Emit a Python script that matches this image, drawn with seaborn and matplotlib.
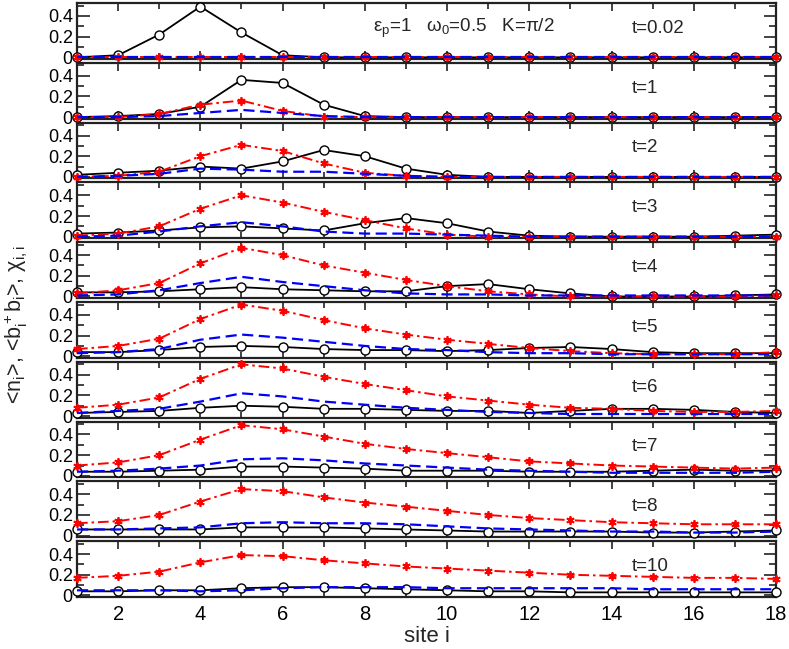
import numpy as np
import pandas as pd
import seaborn as sns
import matplotlib
matplotlib.use("Agg")
import matplotlib.pyplot as plt
from matplotlib.ticker import MultipleLocator

sites = list(range(1, 19))
times = ["0.02", "1", "2", "3", "4", "5", "6", "7", "8", "10"]

# <n_i>  (black, open circles)
n_i = [
    [0, 0.02, 0.22, 0.49, 0.24, 0.02, 0, 0, 0, 0, 0, 0, 0, 0, 0, 0, 0, 0],
    [0, 0.01, 0.03, 0.10, 0.36, 0.33, 0.12, 0.01, 0, 0, 0, 0, 0, 0, 0, 0, 0, 0],
    [0.02, 0.04, 0.06, 0.10, 0.08, 0.15, 0.26, 0.20, 0.08, 0.02, 0, 0, 0, 0, 0, 0, 0, 0],
    [0.03, 0.04, 0.06, 0.09, 0.10, 0.08, 0.06, 0.13, 0.18, 0.13, 0.05, 0.01, 0, 0, 0, 0, 0.01, 0.02],
    [0.04, 0.04, 0.05, 0.07, 0.09, 0.07, 0.06, 0.05, 0.05, 0.10, 0.12, 0.07, 0.03, 0, 0, 0, 0.01, 0.02],
    [0.04, 0.04, 0.06, 0.09, 0.10, 0.09, 0.07, 0.06, 0.06, 0.05, 0.06, 0.08, 0.09, 0.07, 0.04, 0.03, 0.03, 0.03],
    [0.03, 0.04, 0.05, 0.08, 0.10, 0.09, 0.07, 0.07, 0.06, 0.05, 0.05, 0.03, 0.05, 0.07, 0.07, 0.06, 0.04, 0.03],
    [0.04, 0.04, 0.05, 0.06, 0.09, 0.09, 0.08, 0.07, 0.05, 0.05, 0.05, 0.04, 0.04, 0.04, 0.05, 0.06, 0.05, 0.05],
    [0.06, 0.06, 0.06, 0.06, 0.08, 0.08, 0.08, 0.07, 0.06, 0.05, 0.04, 0.04, 0.04, 0.04, 0.03, 0.03, 0.04, 0.05],
    [0.04, 0.04, 0.05, 0.05, 0.07, 0.08, 0.08, 0.07, 0.06, 0.05, 0.04, 0.04, 0.03, 0.03, 0.03, 0.03, 0.03, 0.03],
]

# <b_i^+ b_i>  (red, dash-dot, asterisks)
b_i = [
    [0] * 18,
    [0, 0, 0.03, 0.12, 0.16, 0.06, 0.005, 0, 0, 0, 0, 0, 0, 0, 0, 0, 0, 0],
    [0, 0.01, 0.05, 0.20, 0.31, 0.25, 0.13, 0.04, 0.01, 0, 0, 0, 0, 0, 0, 0, 0, 0],
    [0.01, 0.03, 0.10, 0.27, 0.40, 0.33, 0.24, 0.16, 0.08, 0.02, 0, 0, 0, 0, 0, 0, 0, 0],
    [0.03, 0.06, 0.13, 0.32, 0.47, 0.40, 0.30, 0.23, 0.16, 0.10, 0.05, 0.02, 0, 0, 0, 0, 0, 0.01],
    [0.07, 0.10, 0.17, 0.36, 0.50, 0.44, 0.35, 0.27, 0.21, 0.16, 0.12, 0.08, 0.05, 0.03, 0.02, 0.02, 0.02, 0.04],
    [0.08, 0.11, 0.18, 0.36, 0.50, 0.46, 0.38, 0.31, 0.25, 0.19, 0.15, 0.11, 0.08, 0.07, 0.05, 0.04, 0.04, 0.05],
    [0.10, 0.13, 0.20, 0.35, 0.49, 0.45, 0.38, 0.31, 0.26, 0.22, 0.18, 0.14, 0.12, 0.10, 0.09, 0.08, 0.07, 0.08],
    [0.12, 0.14, 0.20, 0.33, 0.45, 0.43, 0.37, 0.32, 0.28, 0.24, 0.20, 0.17, 0.15, 0.13, 0.12, 0.11, 0.11, 0.11],
    [0.17, 0.19, 0.23, 0.32, 0.39, 0.38, 0.34, 0.31, 0.28, 0.26, 0.24, 0.22, 0.20, 0.19, 0.18, 0.17, 0.17, 0.16],
]

# chi_{i,i}  (blue, dashed)
chi_ii = [
    [0] * 18,
    [0, 0, 0.01, 0.04, 0.07, 0.04, 0.01, 0, 0, 0, 0, 0, 0, 0, 0, 0, 0, 0],
    [0, 0.01, 0.03, 0.08, 0.07, 0.05, 0.05, 0.03, 0.01, 0, 0, 0, 0, 0, 0, 0, 0, 0],
    [0, 0.01, 0.05, 0.10, 0.14, 0.10, 0.05, 0.03, 0.03, 0.02, 0.01, 0, 0, 0, 0, 0, 0, 0],
    [0.01, 0.02, 0.06, 0.13, 0.19, 0.14, 0.10, 0.06, 0.03, 0.02, 0.02, 0.01, 0.01, 0.01, 0.01, 0.01, 0.01, 0.01],
    [0.03, 0.04, 0.07, 0.16, 0.21, 0.18, 0.14, 0.10, 0.07, 0.06, 0.04, 0.03, 0.03, 0.02, 0.02, 0.02, 0.02, 0.02],
    [0.03, 0.05, 0.07, 0.14, 0.22, 0.19, 0.14, 0.11, 0.08, 0.06, 0.04, 0.03, 0.02, 0.02, 0.02, 0.02, 0.02, 0.02],
    [0.04, 0.05, 0.07, 0.10, 0.16, 0.17, 0.15, 0.12, 0.10, 0.08, 0.06, 0.05, 0.04, 0.03, 0.03, 0.03, 0.03, 0.04],
    [0.06, 0.06, 0.07, 0.08, 0.12, 0.13, 0.12, 0.12, 0.11, 0.09, 0.07, 0.06, 0.05, 0.04, 0.04, 0.03, 0.03, 0.04],
    [0.05, 0.05, 0.05, 0.04, 0.05, 0.07, 0.08, 0.08, 0.08, 0.07, 0.07, 0.07, 0.07, 0.07, 0.06, 0.06, 0.06, 0.06],
]

sns.set_style("ticks")
plt.rcParams['font.family'] = ['Liberation Sans', 'DejaVu Sans']
plt.rcParams['mathtext.fontset'] = 'custom'
plt.rcParams['mathtext.rm'] = 'Liberation Sans'
plt.rcParams['mathtext.it'] = 'Liberation Sans'
plt.rcParams['mathtext.sf'] = 'Liberation Sans'

fig, axes = plt.subplots(10, 1, figsize=(7.89, 6.49), dpi=100, sharex=True)
fig.subplots_adjust(left=0.0976, right=0.9835, top=0.9954, bottom=0.0801, hspace=0.07)

for k, ax in enumerate(axes):
    sns.lineplot(x=sites, y=n_i[k], ax=ax, color='black', linewidth=1.3,
                 marker='o', markersize=6.5, markerfacecolor='white',
                 markeredgecolor='black', markeredgewidth=1.0, clip_on=False, zorder=3)
    sns.lineplot(x=sites, y=b_i[k], ax=ax, color='red', linewidth=1.4,
                 dashes=[5.5, 2, 1.3, 2], marker=(6, 2, 0), markersize=6,
                 markeredgecolor='red', markeredgewidth=1.3, clip_on=False, zorder=4)
    sns.lineplot(x=sites, y=chi_ii[k], ax=ax, color='blue', linewidth=1.6,
                 dashes=[5, 2.5], clip_on=False, zorder=5)

    ax.set_xlim(1, 18)
    ax.set_ylim(-0.015, 0.525)
    ax.set_yticks([0, 0.2, 0.4])
    ax.set_yticklabels(["0", "0.2", "0.4"])
    ax.yaxis.set_minor_locator(MultipleLocator(0.1))
    ax.xaxis.set_major_locator(MultipleLocator(2))
    ax.xaxis.set_minor_locator(MultipleLocator(1))
    ax.tick_params(axis='both', which='both', direction='in', top=True, right=True,
                   colors='#222222', labelcolor='black')
    ax.tick_params(axis='y', which='major', length=9, width=1.2, labelsize=13, pad=3)
    ax.tick_params(axis='y', which='minor', length=5, width=1.2)
    ax.tick_params(axis='x', which='major', length=6, width=1.2, labelsize=14.5, pad=6)
    ax.tick_params(axis='x', which='minor', length=4, width=1.2)
    for sp in ax.spines.values():
        sp.set_linewidth(1.6)
        sp.set_color('#222222')
    ax.set_xlabel("")
    ax.set_ylabel("")
    ax.text(14.5, 0.28, "t=" + times[k], fontsize=13.5, va='center', ha='left')

axes[0].text(8.2, 0.28, "ε$_p$=1   ω$_0$=0.5   K=π/2", fontsize=13.5, va='center', ha='left')
axes[-1].set_xlabel("site i", fontsize=16, labelpad=1)
fig.text(0.02, 0.5, r"<n$_i$>, <b$_i^+$b$_i$>, χ$_{i,i}$", rotation=90,
         fontsize=15.5, va='center', ha='center')

fig.savefig("out.png", dpi=100)
